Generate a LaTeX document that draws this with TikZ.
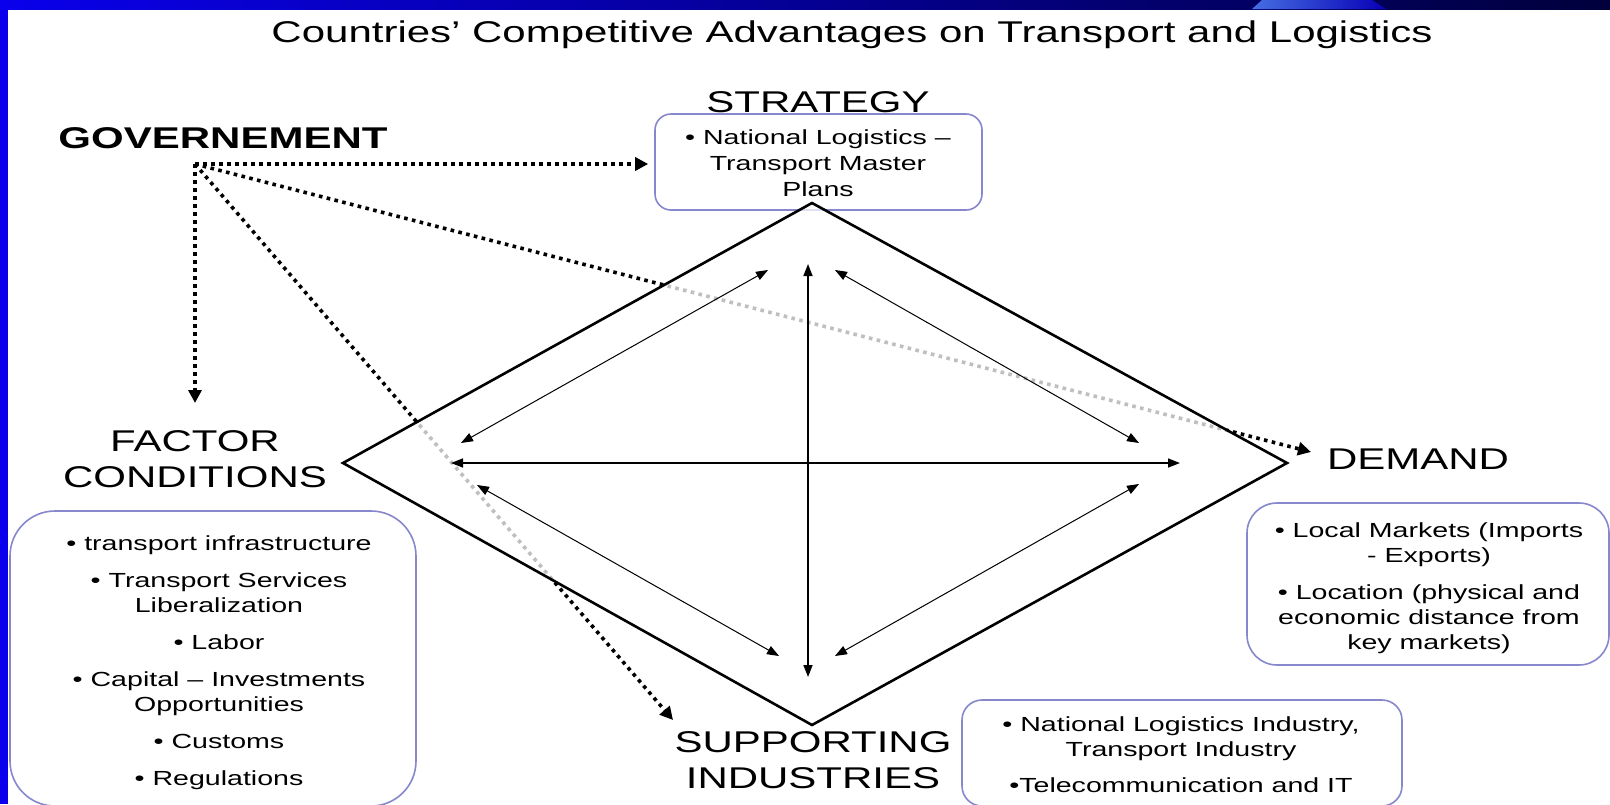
\documentclass[tikz,border=0pt]{standalone}
\usepackage{fontspec}
\setmainfont{Liberation Sans}[FakeStretch=1.4]
\usetikzlibrary{arrows.meta}
\definecolor{boxblue}{RGB}{135,135,205}
\definecolor{barblue}{RGB}{10,0,235}
\definecolor{barnavy}{RGB}{0,0,60}
\definecolor{streak}{RGB}{70,110,225}
\tikzset{
  heading/.style={font=\fontsize{30}{36}\selectfont, inner sep=0pt},
  itemtext/.style={font=\fontsize{20.4}{25}\selectfont, align=center, inner sep=0pt},
  panel/.style={draw=boxblue, line width=1.6pt, fill=white},
  govarrow/.style={line width=3.6pt, dash pattern=on 3.6pt off 4.4pt, -{Triangle[length=13pt,width=13pt]}},
  rel/.style={line width=1pt, {Triangle[length=12pt,width=9pt]}-{Triangle[length=12pt,width=9pt]}},
  relbold/.style={rel, line width=1.6pt}
}
\begin{document}
\begin{tikzpicture}[x=1pt,y=-1pt]
\useasboundingbox (0,0) rectangle (1610,804);
\fill[white] (0,0) rectangle (1610,804);
% frame
\shade[left color=barblue, right color=barnavy] (0,0) rectangle (1610,9);
\shade[left color=streak, right color=barblue!70!barnavy] (1252,9) -- (1262,0) -- (1372,0) -- (1386,9) -- cycle;
\fill[barblue] (0,0) rectangle (8,804);

% title
\node[font=\fontsize{30}{36}\selectfont, inner sep=0pt] (title) at (852,35) {Countries’ Competitive Advantages on Transport and Logistics};

% labels
\node[heading, font=\fontsize{30}{36}\bfseries\selectfont] (gov) at (223,138) {GOVERNEMENT};
\node[heading] (strategy) at (818,102) {STRATEGY};
\node[heading, align=center] (factor) at (195,459) {FACTOR\\CONDITIONS};
\node[heading] (demand) at (1418,459) {DEMAND};
\node[heading, align=center] (supporting) at (813,760) {SUPPORTING\\INDUSTRIES};

% boxes
\node[panel, rounded corners=16pt, minimum width=327pt, minimum height=96pt] (stratbox) at (818.5,162) {};
\node[itemtext, font=\fontsize{20.4}{26}\selectfont] (strattext) at (818,163) {• National Logistics –\\Transport Master\\Plans};

\node[panel, rounded corners=45pt, minimum width=406pt, minimum height=295pt] (factorbox) at (213,658.5) {};
\node[itemtext] (factortext) at (219,663) {• transport infrastructure\\[12pt]• Transport Services\\Liberalization\\[12pt]• Labor\\[12pt]• Capital – Investments\\Opportunities\\[12pt]• Customs\\[12pt]• Regulations};

\node[panel, rounded corners=30pt, minimum width=362pt, minimum height=162pt] (demandbox) at (1428,584) {};
\node[itemtext] (demandtext) at (1429,588) {• Local Markets (Imports\\- Exports)\\[12pt]• Location (physical and\\economic distance from\\key markets)};

\node[panel, rounded corners=20pt, minimum width=440pt, minimum height=106pt] (supbox) at (1182,753) {};
\node[itemtext] (suptext) at (1181,754.5) {• National Logistics Industry,\\Transport Industry\\[11pt]•Telecommunication and IT};

% government dotted arrows
\coordinate (g0) at (195,164);
\coordinate (factortip) at (195,403);
\coordinate (demtip) at (1311,452);
\coordinate (suptip) at (673,720);
\draw[govarrow, shorten >=6pt] (g0) -- (g0 -| stratbox.west);
\draw[govarrow] (g0) -- (factortip);
\draw[govarrow] (g0) -- (demtip);
\draw[govarrow] (g0) -- (suptip);

% diamond
\coordinate (dT) at (812,203);
\coordinate (dR) at (1287,463);
\coordinate (dB) at (812,725);
\coordinate (dL) at (343,463);
\fill[white, fill opacity=0.75] (dT) -- (dR) -- (dB) -- (dL) -- cycle;
\draw[line width=2.6pt, line join=miter] (dT) -- (dR) -- (dB) -- (dL) -- cycle;

% inner relations
\coordinate (vT) at (808,264);
\coordinate (vB) at (808,677);
\coordinate (hL) at (451,463);
\coordinate (hR) at (1180,463);
\coordinate (ulA) at (461,443);
\coordinate (ulB) at (768,270);
\coordinate (urA) at (835,270);
\coordinate (urB) at (1139,443);
\coordinate (llA) at (477,485);
\coordinate (llB) at (779,656);
\coordinate (lrA) at (835,656);
\coordinate (lrB) at (1139,484);
\draw[relbold] (vT) -- (vB);
\draw[relbold] (hL) -- (hR);
\draw[rel] (ulA) -- (ulB);
\draw[rel] (urA) -- (urB);
\draw[rel] (llA) -- (llB);
\draw[rel] (lrA) -- (lrB);
\end{tikzpicture}
\end{document}
